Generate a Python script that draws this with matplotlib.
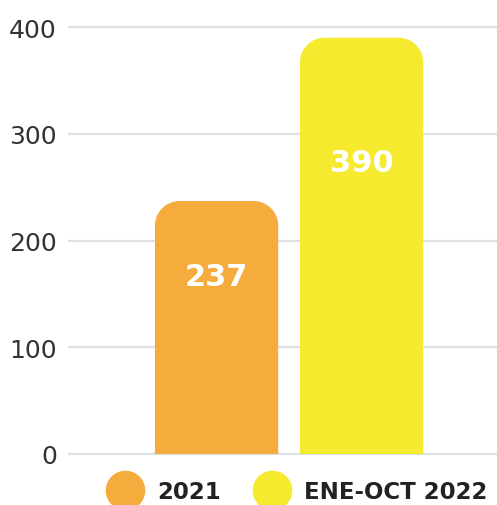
import matplotlib.pyplot as plt
from matplotlib.path import Path
from matplotlib.patches import PathPatch
from matplotlib.lines import Line2D

categories = ['2021', 'ENE-OCT 2022']
values = [237, 390]
colors = ['#F5AC3D', '#F5EA2E']
yticks = [0, 100, 200, 300, 400]


def rounded_top(x0, w, h, rx, ry):
    # bar path with rounded top corners, square bottom
    k = 0.5523
    x1 = x0 + w
    verts = [
        (x0, 0), (x0, h - ry),
        (x0, h - ry + k * ry), (x0 + rx - k * rx, h), (x0 + rx, h),
        (x1 - rx, h),
        (x1 - rx + k * rx, h), (x1, h - ry + k * ry), (x1, h - ry),
        (x1, 0), (x0, 0),
    ]
    codes = [Path.MOVETO, Path.LINETO,
             Path.CURVE4, Path.CURVE4, Path.CURVE4,
             Path.LINETO,
             Path.CURVE4, Path.CURVE4, Path.CURVE4,
             Path.LINETO, Path.CLOSEPOLY]
    return Path(verts, codes)


fig = plt.figure(figsize=(4.97, 5.06), dpi=100)
ax = fig.add_axes([0.137, 0.0903, 0.863, 0.907])

x = list(range(len(values)))
bars = ax.bar(x, values, width=0.85, color=colors)
for bar, c, v in zip(bars, colors, values):
    bar.set_visible(False)
    p = rounded_top(bar.get_x(), bar.get_width(), bar.get_height(), 0.17, 23)
    ax.add_patch(PathPatch(p, facecolor=c, edgecolor='none', zorder=3))
    ax.text(bar.get_x() + bar.get_width() / 2, v * 0.7, str(v),
            ha='center', va='center', color='white', fontsize=22,
            fontweight='bold', zorder=4)

ax.set_xlim(-1.024, 1.934)
ax.set_ylim(-5, 425)
ax.set_yticks(yticks)
ax.set_xticks([])
ax.yaxis.grid(True, color='#DCE2E2', linewidth=1.6)
ax.set_axisbelow(True)
ax.tick_params(axis='y', length=0, pad=8, labelsize=18, labelcolor='#333333')
for s in ax.spines.values():
    s.set_visible(False)

handles = [Line2D([], [], marker='o', linestyle='none', markersize=28.5,
                  markerfacecolor=c, markeredgecolor='none') for c in colors]
leg = fig.legend(handles, categories, loc='center', bbox_to_anchor=(0.593, 0.027),
                 ncol=2, frameon=False, handletextpad=0.4, columnspacing=1.2,
                 prop={'weight': 'bold', 'size': 16.5})
for t in leg.get_texts():
    t.set_color('#222222')

fig.savefig('out.png', dpi=100)
